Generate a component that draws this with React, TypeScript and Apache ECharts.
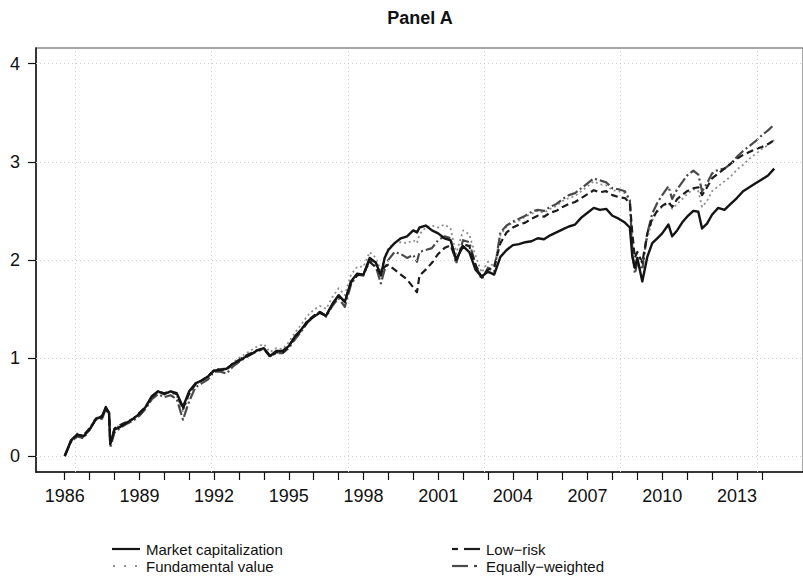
import React, { useEffect, useRef } from "react";
import * as echarts from "echarts";

// Observation dates (decimal years)
const dates = [
  1986.0, 1986.25, 1986.5, 1986.75,
  1987.0, 1987.25, 1987.5, 1987.65, 1987.78, 1987.83,
  1988.0, 1988.25, 1988.5, 1988.75,
  1989.0, 1989.25, 1989.5, 1989.75,
  1990.0, 1990.25, 1990.5, 1990.75,
  1991.0, 1991.25, 1991.5, 1991.75,
  1992.0, 1992.25, 1992.5, 1992.75,
  1993.0, 1993.25, 1993.5, 1993.75,
  1994.0, 1994.25, 1994.5, 1994.75,
  1995.0, 1995.25, 1995.5, 1995.75,
  1996.0, 1996.25, 1996.5, 1996.75,
  1997.0, 1997.25, 1997.5, 1997.75,
  1998.0, 1998.25, 1998.5, 1998.7, 1998.85,
  1999.0, 1999.25, 1999.5, 1999.75,
  2000.0, 2000.15, 2000.25, 2000.5, 2000.75,
  2001.0, 2001.25, 2001.5, 2001.72,
  2002.0, 2002.25, 2002.5, 2002.75,
  2003.0, 2003.25, 2003.5, 2003.75,
  2004.0, 2004.25, 2004.5, 2004.75,
  2005.0, 2005.25, 2005.5, 2005.75,
  2006.0, 2006.25, 2006.5, 2006.75,
  2007.0, 2007.25, 2007.5, 2007.75,
  2008.0, 2008.25, 2008.5, 2008.7, 2008.8, 2008.9,
  2009.0, 2009.2, 2009.4, 2009.6, 2009.8,
  2010.0, 2010.25, 2010.4, 2010.6, 2010.8,
  2011.0, 2011.25, 2011.45, 2011.6, 2011.8,
  2012.0, 2012.25, 2012.5, 2012.75,
  2013.0, 2013.25, 2013.5, 2013.75,
  2014.0, 2014.25, 2014.5,
];

const marketCap = [
  0.0, 0.16, 0.22, 0.2,
  0.27, 0.38, 0.4, 0.5, 0.44, 0.12,
  0.27, 0.3, 0.34, 0.38,
  0.43, 0.5, 0.61, 0.66,
  0.63, 0.66, 0.64, 0.5,
  0.66, 0.74, 0.77, 0.81,
  0.87, 0.88, 0.89, 0.94,
  0.97, 1.01, 1.04, 1.08,
  1.1, 1.02, 1.07, 1.07,
  1.12, 1.22, 1.29, 1.37,
  1.42, 1.46, 1.43, 1.55,
  1.64, 1.57, 1.78, 1.86,
  1.85, 2.02, 1.97, 1.84, 2.02,
  2.1, 2.17, 2.22, 2.24,
  2.3, 2.28, 2.33, 2.35, 2.3,
  2.27, 2.22, 2.2, 2.0,
  2.14, 2.08, 1.9, 1.83,
  1.88, 1.85, 2.03, 2.1,
  2.15, 2.16, 2.18, 2.19,
  2.22, 2.21, 2.25, 2.28,
  2.31, 2.34, 2.36, 2.43,
  2.48, 2.53, 2.51, 2.52,
  2.45, 2.42, 2.38, 2.33, 2.03, 1.92,
  2.02, 1.78, 2.03, 2.17, 2.22,
  2.27, 2.36, 2.24, 2.3, 2.38,
  2.44, 2.5, 2.49, 2.32, 2.37,
  2.46, 2.53, 2.51, 2.57,
  2.63, 2.7, 2.74, 2.78,
  2.82, 2.86, 2.93,
];

const fundamentalValue = [
  0.0, 0.16, 0.23, 0.21,
  0.29, 0.39, 0.4, 0.49, 0.45, 0.13,
  0.28, 0.32, 0.35, 0.38,
  0.44, 0.5, 0.6, 0.65,
  0.63, 0.65, 0.61, 0.45,
  0.62, 0.73, 0.77, 0.8,
  0.88, 0.89, 0.89, 0.95,
  1.0, 1.04, 1.08, 1.12,
  1.14, 1.06, 1.1, 1.09,
  1.16, 1.26, 1.34, 1.43,
  1.49, 1.53, 1.5, 1.62,
  1.71, 1.64, 1.85, 1.93,
  1.93, 2.08, 2.02, 1.88, 2.03,
  2.12, 2.17, 2.18, 2.17,
  2.2, 2.17, 2.26, 2.33, 2.35,
  2.33, 2.36, 2.32, 2.06,
  2.3, 2.26, 2.04, 1.87,
  1.98, 1.93, 2.25, 2.34,
  2.38, 2.4, 2.44, 2.47,
  2.5, 2.48, 2.52, 2.55,
  2.6, 2.63, 2.65, 2.7,
  2.75, 2.8, 2.77, 2.76,
  2.71, 2.7, 2.68, 2.6, 2.12, 1.92,
  2.03, 2.0, 2.22, 2.4, 2.49,
  2.54, 2.58, 2.52, 2.57, 2.62,
  2.67, 2.72, 2.7, 2.54, 2.6,
  2.7, 2.75, 2.8, 2.85,
  2.92, 2.97, 3.03, 3.08,
  3.13, 3.17, 3.22,
];

const lowRisk = [
  0.0, 0.15, 0.21, 0.21,
  0.28, 0.37, 0.41, 0.48, 0.44, 0.14,
  0.28, 0.32, 0.35, 0.38,
  0.44, 0.5, 0.6, 0.66,
  0.64, 0.66, 0.63, 0.48,
  0.64, 0.73, 0.77, 0.81,
  0.88, 0.88, 0.88, 0.94,
  0.98, 1.02, 1.05, 1.08,
  1.09, 1.01, 1.06, 1.05,
  1.12, 1.21, 1.28, 1.38,
  1.43, 1.47, 1.43, 1.55,
  1.63, 1.58, 1.77, 1.84,
  1.86, 1.98, 1.92, 1.86, 1.93,
  1.95, 1.9, 1.85, 1.8,
  1.72, 1.67, 1.84, 1.9, 1.97,
  2.06, 2.12, 2.15, 2.0,
  2.16, 2.14, 1.95, 1.82,
  1.9, 1.93, 2.17, 2.28,
  2.33, 2.36, 2.38, 2.42,
  2.45, 2.44, 2.48, 2.5,
  2.54, 2.57, 2.59, 2.63,
  2.67, 2.71, 2.69, 2.7,
  2.66, 2.64, 2.63, 2.58, 2.27, 2.02,
  2.08, 1.97, 2.27, 2.42, 2.5,
  2.55, 2.59, 2.54, 2.62, 2.66,
  2.7, 2.73, 2.74, 2.66, 2.74,
  2.83, 2.88, 2.93, 2.98,
  3.03, 3.07, 3.1, 3.13,
  3.15, 3.18, 3.22,
];

const equallyWeighted = [
  0.0, 0.14, 0.2, 0.18,
  0.27, 0.37, 0.38, 0.48, 0.42, 0.09,
  0.24, 0.29, 0.33, 0.36,
  0.41, 0.48, 0.58, 0.63,
  0.6, 0.62, 0.58, 0.37,
  0.56, 0.7, 0.74, 0.78,
  0.86, 0.86, 0.84, 0.91,
  0.96, 1.0, 1.04, 1.07,
  1.09, 1.02, 1.05, 1.05,
  1.1, 1.19, 1.27, 1.36,
  1.42, 1.47, 1.42, 1.53,
  1.61, 1.52, 1.75, 1.85,
  1.84, 2.0, 1.93, 1.76, 1.9,
  2.0, 2.08, 2.06, 2.02,
  2.05, 1.98, 2.08, 2.1, 2.12,
  2.2, 2.24, 2.22, 1.96,
  2.2, 2.18, 1.95, 1.8,
  1.92, 1.88, 2.28, 2.35,
  2.39, 2.42, 2.45, 2.49,
  2.51, 2.5, 2.54, 2.57,
  2.62, 2.66, 2.68, 2.73,
  2.78, 2.83, 2.81, 2.79,
  2.73, 2.72, 2.7, 2.61, 2.1, 1.86,
  1.97, 1.9, 2.27, 2.47, 2.58,
  2.66, 2.75, 2.62, 2.72, 2.79,
  2.86, 2.91, 2.87, 2.7, 2.78,
  2.88, 2.92, 2.93, 2.98,
  3.05, 3.11, 3.16, 3.21,
  3.27, 3.32, 3.38,
];

const yTicks = [0, 1, 2, 3, 4];
const yearTicks = [
  1986, 1987, 1988, 1989, 1990, 1991, 1992, 1993, 1994, 1995,
  1996, 1997, 1998, 1999, 2000, 2001, 2002, 2003, 2004, 2005,
  2006, 2007, 2008, 2009, 2010, 2011, 2012, 2013, 2014,
];
const yearLabels = [1986, 1989, 1992, 1995, 1998, 2001, 2004, 2007, 2010, 2013];
// vertical reference lines every 2000 days
const vGridDates = [1986.43, 1991.9, 1997.38, 2002.86, 2008.33, 2013.81];

const FONT = "'Liberation Sans', Arial, Helvetica, sans-serif";

const seriesDefs = [
  { name: "Fundamental value", data: fundamentalValue, color: "#8e8e8e", dash: [2, 3], width: 1.8 },
  { name: "Equally\u2212weighted", data: equallyWeighted, color: "#4a4a4a", dash: [11, 3, 2, 3], width: 2.2 },
  { name: "Low\u2212risk", data: lowRisk, color: "#1c1c1c", dash: [7, 4], width: 2.2 },
  { name: "Market capitalization", data: marketCap, color: "#141414", dash: null, width: 2.4 },
];

// Legend key segments: [start, end] offsets along a 28px sample
const legendKeys = [
  { label: "Market capitalization", col: 0, row: 0, color: "#141414", segs: [[0, 28]] },
  { label: "Fundamental value", col: 0, row: 1, color: "#8e8e8e", segs: [[1, 3], [12, 14], [23, 25]] },
  { label: "Low\u2212risk", col: 1, row: 0, color: "#1c1c1c", segs: [[0, 6], [12, 28]] },
  { label: "Equally\u2212weighted", col: 1, row: 1, color: "#4a4a4a", segs: [[0, 16], [22, 25]] },
];
const legendCols = [112, 452];
const legendRows = [549, 566];

export default function App() {
  const ref = useRef<HTMLDivElement>(null);

  useEffect(() => {
    if (!ref.current) return;
    const chart = echarts.init(ref.current, undefined, { renderer: "svg" });

    const gridSeries = {
      type: "line",
      data: [],
      silent: true,
      z: 1,
      markLine: {
        silent: true,
        symbol: "none",
        label: { show: false },
        lineStyle: { type: [1, 3], color: "#cfcfcf", width: 1 },
        data: [
          ...yTicks.map((v) => ({ yAxis: v })),
          ...vGridDates.map((d) => ({ xAxis: d })),
        ],
      },
    };

    const lines = seriesDefs.map((s, i) => ({
      name: s.name,
      type: "line",
      data: dates.map((d, k) => [d, s.data[k]]),
      showSymbol: false,
      symbol: "none",
      z: 2 + i,
      lineStyle: { color: s.color, width: s.width, type: s.dash ?? "solid", join: "round" },
      itemStyle: { color: s.color },
    }));

    const legendGraphics: any[] = [];
    legendKeys.forEach((k) => {
      const x0 = legendCols[k.col];
      const y = legendRows[k.row];
      k.segs.forEach(([a, b]) => {
        legendGraphics.push({
          type: "line",
          shape: { x1: x0 + a, y1: y, x2: x0 + b, y2: y },
          style: { stroke: k.color, lineWidth: 2.2 },
          silent: true,
        });
      });
      legendGraphics.push({
        type: "text",
        x: x0 + 34,
        y,
        style: {
          text: k.label,
          font: `15px ${FONT}`,
          fill: "#111",
          textAlign: "left",
          textVerticalAlign: "middle",
        },
        silent: true,
      });
    });

    chart.setOption({
      animation: false,
      backgroundColor: "#ffffff",
      grid: {
        left: 36,
        right: -2,
        top: 48,
        bottom: 110,
        show: true,
        borderColor: "#8a8a8a",
        borderWidth: 1.5,
        backgroundColor: "transparent",
      },
      graphic: [
        {
          type: "text",
          x: 420,
          y: 18,
          style: {
            text: "Panel A",
            font: `bold 18px ${FONT}`,
            fill: "#111",
            textAlign: "center",
            textVerticalAlign: "middle",
          },
        },
        ...legendGraphics,
      ],
      legend: { show: false },
      xAxis: {
        type: "value",
        min: 1984.846,
        max: 2015.655,
        axisLine: { show: true, onZero: false, lineStyle: { color: "#111", width: 1.5 } },
        axisTick: { show: true, customValues: yearTicks, length: 8, lineStyle: { color: "#111", width: 1.2 } },
        axisLabel: {
          customValues: yearLabels,
          formatter: (v: number) => String(Math.round(v)),
          fontSize: 18,
          fontFamily: FONT,
          color: "#111",
          margin: 15,
        },
        splitLine: { show: false },
      },
      yAxis: {
        type: "value",
        min: -0.163,
        max: 4.16,
        axisLine: { show: true, onZero: false, lineStyle: { color: "#111", width: 1.5 } },
        axisTick: { show: true, customValues: yTicks, length: 8, lineStyle: { color: "#111", width: 1.2 } },
        axisLabel: {
          customValues: yTicks,
          formatter: (v: number) => String(Math.round(v)),
          fontSize: 18,
          fontFamily: FONT,
          color: "#111",
          margin: 16,
        },
        splitLine: { show: false },
      },
      series: [gridSeries, ...lines],
    });

    return () => chart.dispose();
  }, []);

  return (
    <div
      ref={ref}
      style={{ position: "absolute", left: 0, top: 0, width: 803, height: 582, background: "#fff" }}
    />
  );
}
